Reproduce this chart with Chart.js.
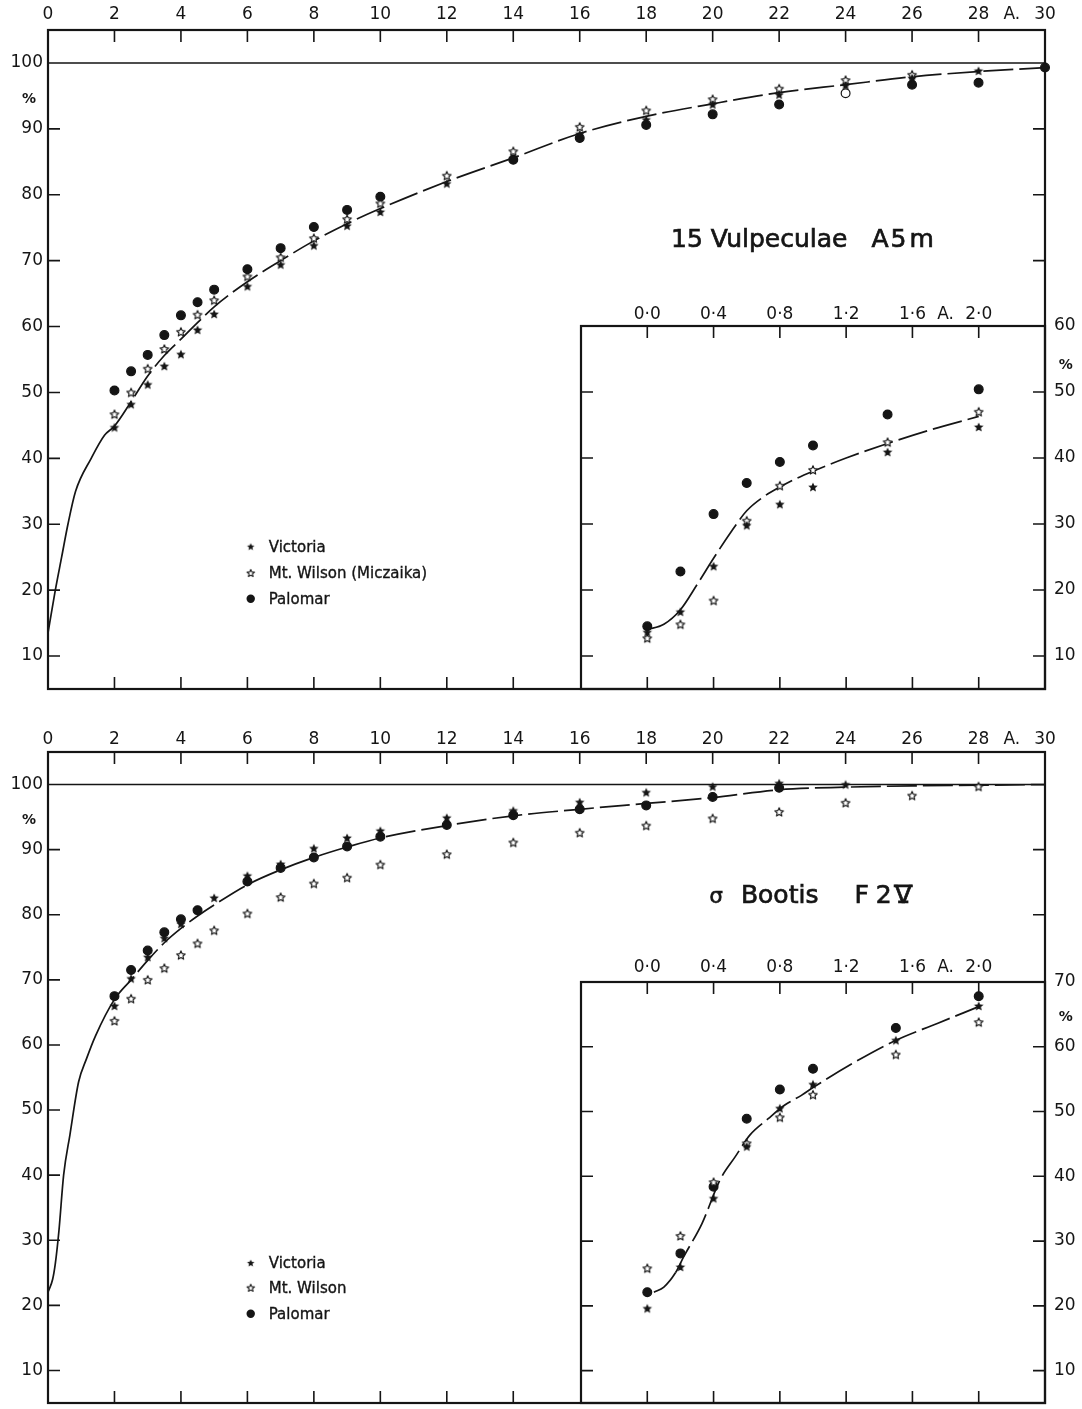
<!DOCTYPE html>
<html>
<head>
<meta charset="utf-8">
<script src="https://cdn.jsdelivr.net/npm/chart.js@4.4.1/dist/chart.umd.min.js"></script>
<style>
  html, body { margin: 0; padding: 0; background: #fff; overflow: hidden; }
  #sheet { position: relative; width: 1082px; height: 1409px; }
  #sheet canvas { position: absolute; left: 0; top: 0; }
</style>
</head>
<body>
<div id="sheet">
  <canvas id="vulMain" width="1082" height="1409"></canvas>
  <canvas id="vulInset" width="1082" height="1409"></canvas>
  <canvas id="booMain" width="1082" height="1409"></canvas>
  <canvas id="booInset" width="1082" height="1409"></canvas>
</div>
<script>
// ---------- 15 Vulpeculae A5m : profile depth (%) against distance from line centre (A.) ----------
const vulX        = [2, 2.5, 3, 3.5, 4, 4.5, 5, 6, 7, 8, 9, 10, 12, 14, 16, 18, 20, 22, 24, 26, 28, 30];
const vulVictoria = [44.7, 48.2, 51.2, 54.0, 55.8, 59.5, 61.9, 66.1, 69.4, 72.3, 75.3, 77.4, 81.7, 85.5, 89.2, 91.4, 93.7, 95.2, 96.6, 97.7, 98.8, null];
const vulMtWilson = [46.7, 50.0, 53.6, 56.6, 59.2, 61.8, 64.0, 67.6, 70.5, 73.4, 76.3, 78.7, 82.9, 86.6, 90.3, 92.8, 94.5, 96.1, 97.4, 98.2, null, null];
const vulPalomar  = [50.3, 53.2, 55.7, 58.7, 61.7, 63.7, 65.6, 68.7, 71.9, 75.1, 77.7, 79.7, null, 85.3, 88.6, 90.6, 92.2, 93.7, 95.4, 96.7, 97.0, 99.3];
const vulCurveX   = [0, 0.05, 0.22, 0.41, 0.6, 0.83, 1.3, 1.7, 2, 2.5, 3, 3.5, 4, 4.5, 5, 6, 7, 8, 9, 10, 12, 14, 16, 18, 20, 22, 24, 26, 28, 30];
const vulCurveY   = [13.5, 15, 20, 25, 30, 35, 40, 43.5, 44.9, 48.6, 52.5, 55.6, 58.1, 60.6, 63.0, 66.8, 70.0, 73.0, 75.6, 77.9, 82.0, 85.6, 89.3, 91.9, 93.8, 95.5, 96.7, 97.9, 98.7, 99.3];

// line core, enlarged
const vulInsetX        = [0, 0.2, 0.4, 0.6, 0.8, 1.0, 1.45, 2.0];
const vulInsetVictoria = [13.6, 16.7, 23.6, 29.8, 33.0, 35.6, 40.9, 44.7];
const vulInsetMtWilson = [12.7, 14.8, 18.4, 30.5, 35.8, 38.2, 42.4, 47.0];
const vulInsetPalomar  = [14.5, 22.8, 31.5, 36.2, 39.4, 41.9, 46.6, 50.4];
const vulInsetCurveX   = [0, 0.1, 0.2, 0.3, 0.4, 0.5, 0.6, 0.7, 0.8, 0.9, 1.0, 1.2, 1.45, 1.7, 2.0];
const vulInsetCurveY   = [14.0, 14.8, 17.0, 20.8, 24.8, 28.6, 32.0, 34.1, 35.6, 36.9, 38.0, 40.0, 42.2, 44.2, 46.3];

// ---------- sigma Bootis F2V ----------
const booX        = [2, 2.5, 3, 3.5, 4, 4.5, 5, 6, 7, 8, 9, 10, 12, 14, 16, 18, 20, 22, 24, 26, 28];
const booVictoria = [66.0, 70.2, 73.5, 76.4, 78.6, 80.7, 82.6, 86.0, 87.8, 90.2, 91.8, 92.9, 94.9, 96.0, 97.3, 98.8, 99.7, 100.2, 100.0, null, null];
const booMtWilson = [63.7, 67.1, 70.0, 71.8, 73.8, 75.6, 77.6, 80.2, 82.7, 84.8, 85.7, 87.7, 89.3, 91.1, 92.6, 93.7, 94.8, 95.8, 97.2, 98.3, 99.7];
const booPalomar  = [67.5, 71.5, 74.5, 77.3, 79.3, 80.7, null, 85.1, 87.2, 88.8, 90.5, 92.0, 93.8, 95.3, 96.2, 96.8, 98.1, 99.5, null, null, null];
const booCurveX   = [0, 0.14, 0.22, 0.33, 0.47, 0.66, 0.92, 1.16, 1.43, 2, 2.5, 3, 3.5, 4, 4.5, 5, 6, 7, 8, 9, 10, 12, 14, 16, 18, 20, 22, 24, 26, 28, 30];
const booCurveY   = [22, 24, 26.4, 31.5, 40, 46.2, 54.3, 57.9, 61.4, 67.0, 70.0, 73.0, 75.7, 77.9, 79.8, 81.5, 84.6, 86.9, 88.8, 90.4, 91.8, 93.7, 95.2, 96.2, 97.1, 98.0, 99.2, 99.6, 99.8, 99.9, 100];

const booInsetX        = [0, 0.2, 0.4, 0.6, 0.8, 1.0, 1.5, 2.0];
const booInsetVictoria = [19.6, 26.0, 36.6, 44.6, 50.5, 54.2, 61.0, 66.3];
const booInsetMtWilson = [25.8, 30.8, 39.1, 45.1, 49.1, 52.6, 58.8, 63.8];
const booInsetPalomar  = [22.1, 28.1, 38.4, 48.9, 53.4, 56.6, 62.9, 67.8];
const booInsetCurveX   = [0.04, 0.1, 0.17, 0.22, 0.33, 0.44, 0.53, 0.62, 0.73, 0.83, 0.93, 1.0, 1.25, 1.5, 1.75, 2.0];
const booInsetCurveY   = [22.1, 22.9, 25.1, 27.6, 32.7, 39.5, 43.0, 46.4, 48.9, 51.0, 52.5, 53.7, 57.6, 61.0, 63.6, 66.2];

// ---------- axis ticks ----------
const mainXTicks   = [0, 2, 4, 6, 8, 10, 12, 14, 16, 18, 20, 22, 24, 26, 28, 30];
const mainUnitAt   = 29;      // "A." sits between the last two labels
const mainYTicks   = [10, 20, 30, 40, 50, 60, 70, 80, 90, 100];
const mainPctAt    = 94.5;
const insetXTicks  = [0, 0.4, 0.8, 1.2, 1.6, 2.0];
const insetUnitAt  = 1.8;
const vulInsetYTicks = [10, 20, 30, 40, 50, 60];
const vulInsetPctAt  = 54;
const booInsetYTicks = [10, 20, 30, 40, 50, 60, 70];
const booInsetPctAt  = 64.5;

// ---------- drawing ----------
const INK = '#151515';
const FONT = "'DejaVu Sans', 'Liberation Sans', sans-serif";
const W = 1082, H = 1409;

function starSprite(filled, r) {
  const s = Math.ceil(r * 2 + 4);
  const c = document.createElement('canvas');
  c.width = c.height = s;
  const g = c.getContext('2d');
  g.translate(s / 2, s / 2 + r * 0.08);
  g.beginPath();
  for (let i = 0; i < 10; i++) {
    const rad = i % 2 ? r * 0.46 : r;
    const ang = -Math.PI / 2 + i * Math.PI / 5;
    g.lineTo(rad * Math.cos(ang), rad * Math.sin(ang));
  }
  g.closePath();
  if (filled) { g.fillStyle = INK; g.fill(); }
  else { g.fillStyle = '#fff'; g.fill(); g.lineWidth = 1.1; g.strokeStyle = INK; g.lineJoin = 'round'; g.stroke(); }
  return c;
}
const STAR_FULL = starSprite(true, 5.0);
const STAR_OPEN = starSprite(false, 4.6);
const KEY_FULL  = starSprite(true, 3.9);
const KEY_OPEN  = starSprite(false, 3.9);

function pts(xs, ys) {
  return xs.map((x, i) => ({ x, y: ys[i] })).filter(p => p.y != null);
}

function observed(xs, vic, mtw, pal, names, hollowAt) {
  return [
    { label: names[0], data: pts(xs, vic), pointStyle: STAR_FULL, pointRadius: 5, order: 0, clip: 12 },
    { label: names[1], data: pts(xs, mtw), pointStyle: STAR_OPEN, pointRadius: 5, order: 1, clip: 12 },
    { label: names[2], data: pts(xs, pal), pointStyle: 'circle', pointRadius: 4.4,
      backgroundColor: c => (c.raw && hollowAt.includes(c.raw.x)) ? '#fff' : INK,
      borderColor: INK, borderWidth: 1.2, order: 2, clip: 12 }
  ];
}

function curve(xs, ys, solidUntil) {
  return {
    type: 'line', label: 'mean', data: pts(xs, ys),
    borderColor: INK, borderWidth: 1.7, pointRadius: 0, fill: false,
    cubicInterpolationMode: 'monotone', order: 5, clip: 4,
    segment: { borderDash: c => (c.p0.parsed.x >= solidUntil ? [30, 6] : undefined) }
  };
}

function fix(prop, size) {
  return s => {
    s[prop] = size;
    s.paddingLeft = s.paddingRight = s.paddingTop = s.paddingBottom = 0;
  };
}
function setTicks(values) {
  return s => { s.ticks = values.slice().sort((a, b) => a - b).map(v => ({ value: v })); };
}
function tickFont(pctAt) {
  return c => (c.tick && c.tick.value === pctAt)
    ? { family: FONT, size: 14, weight: 'bold', lineHeight: 1.2 }
    : { family: FONT, size: 17, lineHeight: 1.2 };
}

// frame, inward tick marks and the 100 % reference line
const framePlugin = {
  id: 'frame',
  beforeDatasetsDraw(chart, _a, o) {
    const { ctx, chartArea: a, scales: { x, y } } = chart;
    const L = 12;
    ctx.save();
    ctx.strokeStyle = INK;
    ctx.lineWidth = 1.6;
    ctx.beginPath();
    (o.top || []).forEach(v => { const p = x.getPixelForValue(v); ctx.moveTo(p, a.top); ctx.lineTo(p, a.top + L); });
    (o.bottom || []).forEach(v => { const p = x.getPixelForValue(v); ctx.moveTo(p, a.bottom); ctx.lineTo(p, a.bottom - L); });
    (o.left || []).forEach(v => { const p = y.getPixelForValue(v); ctx.moveTo(a.left, p); ctx.lineTo(a.left + L, p); });
    (o.right || []).forEach(v => { const p = y.getPixelForValue(v); ctx.moveTo(a.right, p); ctx.lineTo(a.right - L, p); });
    if (o.rule != null) { const p = y.getPixelForValue(o.rule); ctx.moveTo(a.left, p); ctx.lineTo(a.right, p); }
    ctx.stroke();
    ctx.lineWidth = 2.2;
    ctx.strokeRect(a.left, a.top, a.right - a.left, a.bottom - a.top);
    ctx.restore();
  }
};

// star name (a run of words with set gaps) and key of observatories, placed in data coordinates
const notesPlugin = {
  id: 'notes',
  afterDatasetsDraw(chart, _a, o) {
    if (!o.title) return;
    const { ctx, scales: { x, y } } = chart;
    ctx.save();
    ctx.fillStyle = INK;
    ctx.strokeStyle = INK;
    ctx.textAlign = 'left';

    const parts = o.title.parts;
    const fontOf = p => `${p.size || 25}px ${FONT}`;
    let total = 0;
    ctx.textBaseline = 'alphabetic';
    parts.forEach(p => { ctx.font = fontOf(p); p.w = ctx.measureText(p.text).width; total += p.w + (p.gap || 0); });
    let tx = x.getPixelForValue(o.title.at[0]) - total / 2;
    const base = y.getPixelForValue(o.title.at[1]) + 9;   // common baseline, caps centred on the anchor
    parts.forEach(p => {
      ctx.font = fontOf(p);
      ctx.lineWidth = 0.7;
      ctx.fillText(p.text, tx, base);
      ctx.strokeText(p.text, tx, base);
      if (p.bars) {
        // Roman numeral with serif bars above and below
        const m = ctx.measureText(p.text);
        const top = base - m.actualBoundingBoxAscent;
        ctx.lineWidth = 2.6;
        ctx.beginPath();
        ctx.moveTo(tx - 1, top + 1); ctx.lineTo(tx + p.w + 1, top + 1);
        ctx.moveTo(tx + p.w * 0.2, base - 1); ctx.lineTo(tx + p.w * 0.8, base - 1);
        ctx.stroke();
      }
      tx += p.w + (p.gap || 0);
    });

    ctx.textBaseline = 'middle';
    const kx = x.getPixelForValue(o.key.at);
    ctx.font = `15px ${FONT}`;
    o.key.rows.forEach((rv, i) => {
      const ds = chart.data.datasets[i];
      const py = y.getPixelForValue(rv);
      if (ds.pointStyle === 'circle') {
        ctx.beginPath(); ctx.arc(kx, py, 4.2, 0, Math.PI * 2); ctx.fill();
      } else {
        const img = ds.pointStyle === STAR_FULL ? KEY_FULL : KEY_OPEN;
        ctx.drawImage(img, kx - img.width / 2, py - img.height / 2);
      }
      ctx.lineWidth = 0.35;
      ctx.fillText(ds.label, kx + 18, py + 1);
      ctx.strokeText(ds.label, kx + 18, py + 1);
    });
    ctx.restore();
  }
};

const common = {
  responsive: false, animation: false, devicePixelRatio: 1,
  events: [],
};

function mainPanel(id, area, xPad, datasets, frame, notes) {
  return new Chart(document.getElementById(id), {
    type: 'scatter',
    data: { datasets },
    plugins: [framePlugin, notesPlugin],
    options: Object.assign({}, common, {
      layout: { padding: { left: 0, top: area.top - 30, right: W - area.right, bottom: H - area.bottom } },
      scales: {
        x: {
          type: 'linear', position: 'top', min: 0, max: 30,
          afterBuildTicks: setTicks(mainXTicks.concat([mainUnitAt])), afterFit: fix('height', 30),
          grid: { display: false, drawTicks: false }, border: { display: false },
          ticks: { autoSkip: false, maxRotation: 0, padding: xPad, color: INK,
                   font: { family: FONT, size: 17, lineHeight: 1.2 },
                   callback: v => (v === mainUnitAt ? 'A.' : String(v)) }
        },
        y: {
          type: 'linear', position: 'left', min: 5, max: 105,
          afterBuildTicks: setTicks(mainYTicks.concat([mainPctAt])), afterFit: fix('width', area.left),
          grid: { display: false, drawTicks: false }, border: { display: false },
          ticks: { autoSkip: false, padding: 5, color: INK, font: tickFont(mainPctAt),
                   callback: v => (v === mainPctAt ? '%\u2002' : String(v)) }
        }
      },
      plugins: { legend: { display: false }, tooltip: { enabled: false }, frame, notes }
    })
  });
}

function insetPanel(id, area, xPad, yMax, yTicks, pctAt, datasets, frame) {
  return new Chart(document.getElementById(id), {
    type: 'scatter',
    data: { datasets },
    plugins: [framePlugin],
    options: Object.assign({}, common, {
      layout: { padding: { left: area.left, top: area.top - 26, right: W - area.right - 30, bottom: H - area.bottom } },
      scales: {
        x: {
          type: 'linear', position: 'top', min: -0.4, max: 2.4,
          afterBuildTicks: setTicks(insetXTicks.concat([insetUnitAt])), afterFit: fix('height', 26),
          grid: { display: false, drawTicks: false }, border: { display: false },
          ticks: { autoSkip: false, maxRotation: 0, padding: xPad, color: INK,
                   font: { family: FONT, size: 17, lineHeight: 1.2 },
                   callback: v => (v === insetUnitAt ? 'A.' : v.toFixed(1).replace('.', '\u00b7')) }
        },
        y: {
          type: 'linear', position: 'right', min: 5, max: yMax,
          afterBuildTicks: setTicks(yTicks.concat([pctAt])), afterFit: fix('width', 30),
          grid: { display: false, drawTicks: false }, border: { display: false },
          ticks: { autoSkip: false, padding: 9, color: INK, font: tickFont(pctAt),
                   callback: v => (v === pctAt ? ' %' : String(v)) }
        }
      },
      plugins: { legend: { display: false }, tooltip: { enabled: false }, frame }
    })
  });
}

const evenTicks = (a, b) => mainXTicks.filter(v => v >= a && v <= b);

// top figure
mainPanel('vulMain', { left: 48, top: 30, right: 1045, bottom: 689 }, 5,
  observed(vulX, vulVictoria, vulMtWilson, vulPalomar, ['Victoria', 'Mt. Wilson (Miczaika)', 'Palomar'], [24])
    .concat([curve(vulCurveX, vulCurveY, 2)]),
  { top: evenTicks(2, 28), bottom: evenTicks(2, 14), left: mainYTicks.filter(v => v < 100), right: [70, 80, 90], rule: 100 },
  { title: { parts: [{ text: '15 Vulpeculae', gap: 24 }, { text: 'A', gap: 2 }, { text: '5', gap: 3 }, { text: 'm' }], at: [22.7, 73.4] },
    key: { at: 6.1, rows: [26.6, 22.6, 18.7] } });

insetPanel('vulInset', { left: 581, top: 326, right: 1045, bottom: 689 }, 1, 60, vulInsetYTicks, vulInsetPctAt,
  observed(vulInsetX, vulInsetVictoria, vulInsetMtWilson, vulInsetPalomar, ['Victoria', 'Mt. Wilson (Miczaika)', 'Palomar'], [])
    .concat([curve(vulInsetCurveX, vulInsetCurveY, 0.15)]),
  { top: insetXTicks, bottom: insetXTicks, left: vulInsetYTicks.filter(v => v < 60), right: vulInsetYTicks.filter(v => v < 60) });

// bottom figure
mainPanel('booMain', { left: 48, top: 752, right: 1045, bottom: 1408 }, 2,
  observed(booX, booVictoria, booMtWilson, booPalomar, ['Victoria', 'Mt. Wilson', 'Palomar'], [])
    .concat([curve(booCurveX, booCurveY, 2)]),
  { top: evenTicks(2, 28), bottom: evenTicks(2, 14), left: mainYTicks.filter(v => v < 100), right: [80, 90], rule: 100 },
  { title: { parts: [{ text: '\u03c3', size: 21, gap: 18 }, { text: 'Bootis', gap: 36 }, { text: 'F', gap: 7 }, { text: '2', gap: 3 }, { text: 'V', bars: true }], at: [22.95, 83.2] },
    key: { at: 6.1, rows: [26.5, 22.7, 18.7] } });

insetPanel('booInset', { left: 581, top: 982, right: 1045, bottom: 1408 }, 4, 70, booInsetYTicks, booInsetPctAt,
  observed(booInsetX, booInsetVictoria, booInsetMtWilson, booInsetPalomar, ['Victoria', 'Mt. Wilson', 'Palomar'], [])
    .concat([curve(booInsetCurveX, booInsetCurveY, 0.15)]),
  { top: insetXTicks, bottom: insetXTicks, left: booInsetYTicks.filter(v => v < 70), right: booInsetYTicks.filter(v => v < 70) });
</script>
</body>
</html>
